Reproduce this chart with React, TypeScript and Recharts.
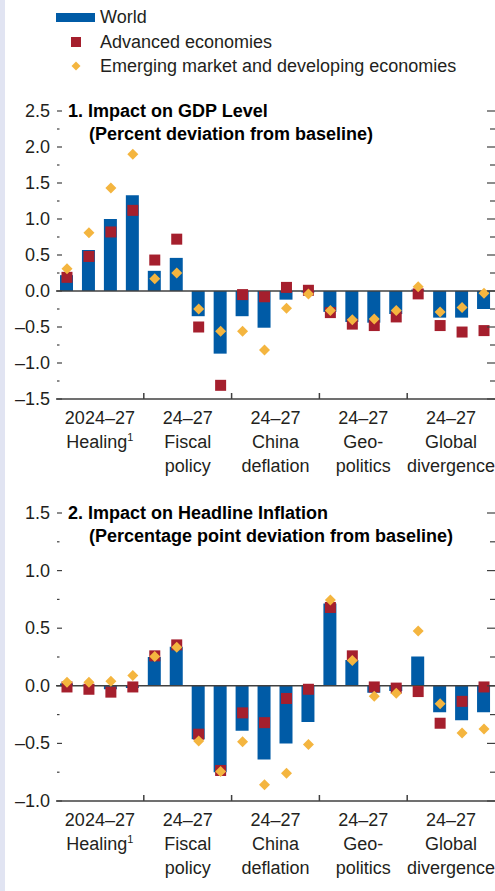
import React from "react";
import {
  ComposedChart,
  Bar,
  Scatter,
  XAxis,
  YAxis,
  ReferenceLine,
} from "recharts";

const groups = ["Healing", "Fiscal policy", "China deflation", "Geo-politics", "Global divergence"];
const groupTop = ["2024–27", "24–27", "24–27", "24–27", "24–27"];
const groupLines = [["Healing"], ["Fiscal", "policy"], ["China", "deflation"], ["Geo-", "politics"], ["Global", "divergence"]];
const years = ["2024", "2025", "2026", "2027"];

// Panel 1: GDP level, percent deviation from baseline
const gdpWorld = [0.22, 0.57, 1.0, 1.33, 0.28, 0.46, -0.35, -0.87, -0.35, -0.51, -0.12, -0.02, -0.29, -0.43, -0.44, -0.32, 0.02, -0.37, -0.37, -0.25];
const gdpAdv = [0.19, 0.48, 0.82, 1.12, 0.43, 0.72, -0.5, -1.31, -0.05, -0.08, 0.05, 0.01, -0.3, -0.46, -0.48, -0.36, -0.04, -0.48, -0.57, -0.55];
const gdpEmde = [0.31, 0.81, 1.43, 1.9, 0.17, 0.25, -0.25, -0.56, -0.56, -0.82, -0.24, -0.04, -0.27, -0.4, -0.39, -0.27, 0.06, -0.29, -0.23, -0.03];
const gdpTicks = [-1.5, -1.25, -1, -0.75, -0.5, -0.25, 0, 0.25, 0.5, 0.75, 1, 1.25, 1.5, 1.75, 2, 2.25, 2.5];

// Panel 2: headline inflation, percentage point deviation from baseline
const infWorld = [0.02, 0.01, -0.03, -0.02, 0.25, 0.34, -0.465, -0.75, -0.39, -0.64, -0.5, -0.315, 0.715, 0.225, -0.06, -0.045, 0.255, -0.23, -0.3, -0.23];
const infAdv = [-0.01, -0.03, -0.055, -0.01, 0.26, 0.355, -0.42, -0.735, -0.235, -0.32, -0.11, -0.03, 0.68, 0.26, -0.01, -0.02, -0.05, -0.325, -0.135, -0.01];
const infEmde = [0.03, 0.03, 0.04, 0.09, 0.255, 0.335, -0.48, -0.745, -0.485, -0.86, -0.76, -0.51, 0.745, 0.22, -0.09, -0.065, 0.475, -0.155, -0.41, -0.375];
const infTicks = [-1, -0.75, -0.5, -0.25, 0, 0.25, 0.5, 0.75, 1, 1.25, 1.5];

const BLUE = "#005ba6";
const RED = "#a51f2d";
const GOLD = "#f4b53f";
const INK = "#231f20";
const AXIS = "#404040";
const FONT = '"Liberation Sans Narrow", "Arial Narrow", "Liberation Sans", sans-serif';

const W = 495;
const H = 480;
const LEFT = 56;
const BW = (W - LEFT) / 20;

function build(world: number[], adv: number[], emde: number[]) {
  return world.map((w, i) => ({
    key: `${groups[Math.floor(i / 4)]}-${years[i % 4]}`,
    world: w,
    adv: adv[i],
    emde: emde[i],
  }));
}

const Square = (p: any) => (
  <rect x={p.cx - 5.5} y={p.cy - 5.5} width={11} height={11} fill={RED} />
);
const Diamond = (p: any) => (
  <polygon
    points={`${p.cx},${p.cy - 5.5} ${p.cx + 5.5},${p.cy} ${p.cx},${p.cy + 5.5} ${p.cx - 5.5},${p.cy}`}
    fill={GOLD}
  />
);

const YTick = (p: any) => {
  const v = p.payload.value;
  const major = Math.abs(v * 2 - Math.round(v * 2)) < 1e-6;
  return (
    <g>
      {major && (
        <text x={50} y={p.y} textAnchor="end" dominantBaseline="central" fontSize={18} fill={INK} fontFamily={FONT}>
          {v.toFixed(1).replace("-", "–")}
        </text>
      )}
      <line x1={57} x2={major ? 62 : 59.5} y1={p.y} y2={p.y} stroke={AXIS} strokeWidth={1.2} />
      <line x1={major ? 487 : 490} x2={495} y1={p.y} y2={p.y} stroke={AXIS} strokeWidth={1.2} />
    </g>
  );
};

const XTick = (p: any) => {
  const i = p.index;
  const g = Math.floor(i / 4);
  const base = 399;
  return (
    <g>
      {i % 4 === 0 && i > 0 && (
        <line x1={p.x - BW / 2} x2={p.x - BW / 2} y1={base - 6} y2={base} stroke={AXIS} strokeWidth={1.5} />
      )}
      {i % 4 === 1 && (
        <text textAnchor="middle" fontSize={18} fill={INK} fontFamily={FONT}>
          <tspan x={p.x + BW / 2} y={base + 25}>{groupTop[g]}</tspan>
          {groupLines[g].map((l, k) => (
            <tspan key={k} x={p.x + BW / 2} y={base + 49 + k * 24}>
              {l}
              {g === 0 && (
                <tspan fontSize={11} dy={-7}>1</tspan>
              )}
            </tspan>
          ))}
        </text>
      )}
    </g>
  );
};

function Panel({ data, ticks, title, sub }: any) {
  return (
    <ComposedChart width={W} height={H} data={data} margin={{ top: 111, right: 0, left: 0, bottom: 6 }}>
      <XAxis
        dataKey="key"
        interval={0}
        tick={<XTick />}
        tickLine={false}
        axisLine={{ stroke: AXIS, strokeWidth: 1.5 }}
        height={75}
      />
      <YAxis
        domain={[ticks[0], ticks[ticks.length - 1]]}
        ticks={ticks}
        interval={0}
        width={LEFT}
        axisLine={false}
        tickLine={false}
        tick={<YTick />}
        allowDataOverflow
      />
      <Bar dataKey="world" fill={BLUE} barSize={13} isAnimationActive={false} />
      <ReferenceLine y={0} stroke={AXIS} strokeWidth={1.5} />
      <Scatter dataKey="adv" shape={<Square />} isAnimationActive={false} />
      <Scatter dataKey="emde" shape={<Diamond />} isAnimationActive={false} />
      <text x={68} y={111} dominantBaseline="central" fontSize={18} fontWeight="bold" fill="#000" fontFamily={FONT}>
        {title}
      </text>
      <text x={89} y={134} dominantBaseline="central" fontSize={18} fontWeight="bold" fill="#000" fontFamily={FONT}>
        {sub}
      </text>
    </ComposedChart>
  );
}

export default function App() {
  const gdp = build(gdpWorld, gdpAdv, gdpEmde);
  const inf = build(infWorld, infAdv, infEmde);
  return (
    <div style={{ position: "absolute", left: 0, top: 0, width: W, height: 891, background: "#fff", fontFamily: FONT }}>
      <div style={{ position: "absolute", left: 0, top: 0, width: 5, height: 891, background: "#e1e4f2" }} />
      <svg width={W} height={80} style={{ position: "absolute", left: 0, top: 0 }}>
        <rect x={56} y={13} width={39} height={9} fill={BLUE} />
        <rect x={71} y={37} width={10} height={10} fill={RED} />
        <polygon points="76,61.5 80.5,66 76,70.5 71.5,66" fill={GOLD} />
        <g fontSize={18} fill={INK} fontFamily={FONT} dominantBaseline="central">
          <text x={100} y={17}>World</text>
          <text x={100} y={42}>Advanced economies</text>
          <text x={100} y={66}>Emerging market and developing economies</text>
        </g>
      </svg>
      <div style={{ position: "absolute", left: 0, top: 0 }}>
        <Panel data={gdp} ticks={gdpTicks} title="1. Impact on GDP Level" sub="(Percent deviation from baseline)" />
      </div>
      <div style={{ position: "absolute", left: 0, top: 402 }}>
        <Panel
          data={inf}
          ticks={infTicks}
          title="2. Impact on Headline Inflation"
          sub="(Percentage point deviation from baseline)"
        />
      </div>
    </div>
  );
}
